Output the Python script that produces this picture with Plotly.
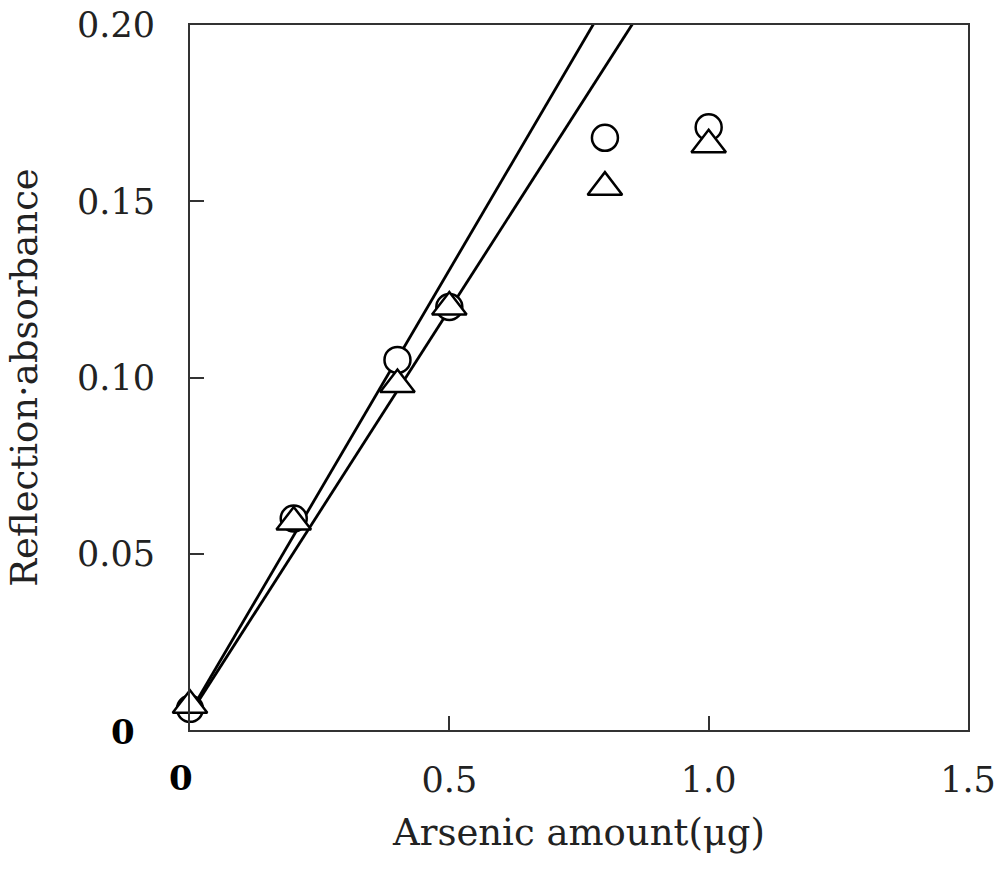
import plotly.graph_objects as go

# Data
arsenic_ug = [0.0, 0.2, 0.4, 0.5, 0.8, 1.0]
abs_circle = [0.006, 0.060, 0.105, 0.120, 0.168, 0.171]
abs_triangle = [0.007, 0.059, 0.098, 0.120, 0.154, 0.166]

# Calibration lines (slope, intercept)
fit_circle = (0.251, 0.005)
fit_triangle = (0.2295, 0.0045)
fit_x = [0.0, 1.0]

x_tickvals = [0.5, 1.0, 1.5]
x_ticktext = ["0.5", "1.0", "1.5"]
y_tickvals = [0.05, 0.10, 0.15, 0.20]
y_ticktext = ["0.05", "0.10", "0.15", "0.20"]

FONT = "DejaVu Serif"
AX = "#333333"

fig = go.Figure()

for m, b in (fit_circle, fit_triangle):
    fig.add_trace(go.Scatter(
        x=fit_x, y=[m * xv + b for xv in fit_x], mode="lines",
        line=dict(color="black", width=2.8), showlegend=False, hoverinfo="skip"))

fig.add_trace(go.Scatter(
    x=arsenic_ug, y=abs_circle, mode="markers", cliponaxis=False,
    marker=dict(symbol="circle", size=26, color="white",
                line=dict(color="black", width=2.5)),
    showlegend=False))

fig.add_trace(go.Scatter(
    x=arsenic_ug, y=abs_triangle, mode="markers", cliponaxis=False,
    marker=dict(symbol="triangle-up", size=30, color="white",
                line=dict(color="black", width=2.5)),
    showlegend=False))

fig.update_layout(
    width=1000, height=874,
    margin=dict(l=190, r=32, t=25, b=144, autoexpand=False),
    paper_bgcolor="white", plot_bgcolor="white",
    font=dict(family=FONT, size=35, color="#222222"),
    xaxis=dict(range=[0, 1.5], tickvals=x_tickvals, ticktext=x_ticktext,
               ticks="inside", ticklen=14, tickwidth=2, tickcolor=AX,
               showline=True, linecolor=AX, linewidth=2, mirror=True,
               showgrid=False, zeroline=False, ticklabelstandoff=18,
               automargin=False,
               title=dict(text="Arsenic amount(μg)", standoff=20,
                          font=dict(family=FONT, size=37))),
    yaxis=dict(range=[0, 0.2], tickvals=y_tickvals, ticktext=y_ticktext,
               ticks="inside", ticklen=14, tickwidth=2, tickcolor=AX,
               showline=True, linecolor=AX, linewidth=2, mirror=True,
               showgrid=False, zeroline=False, ticklabelstandoff=26,
               automargin=False,
               title=dict(text="Reflection·absorbance", standoff=28,
                          font=dict(family=FONT, size=37))),
)

fig.add_annotation(x=0, y=0, xref="x", yref="y", text="<b>0</b>",
                   showarrow=False, xshift=-67, yshift=-2,
                   font=dict(family=FONT, size=34, color="black"))
fig.add_annotation(x=0, y=0, xref="x", yref="y", text="<b>0</b>",
                   showarrow=False, xshift=-9, yshift=-48,
                   font=dict(family=FONT, size=34, color="black"))

fig.write_html("out.html")
